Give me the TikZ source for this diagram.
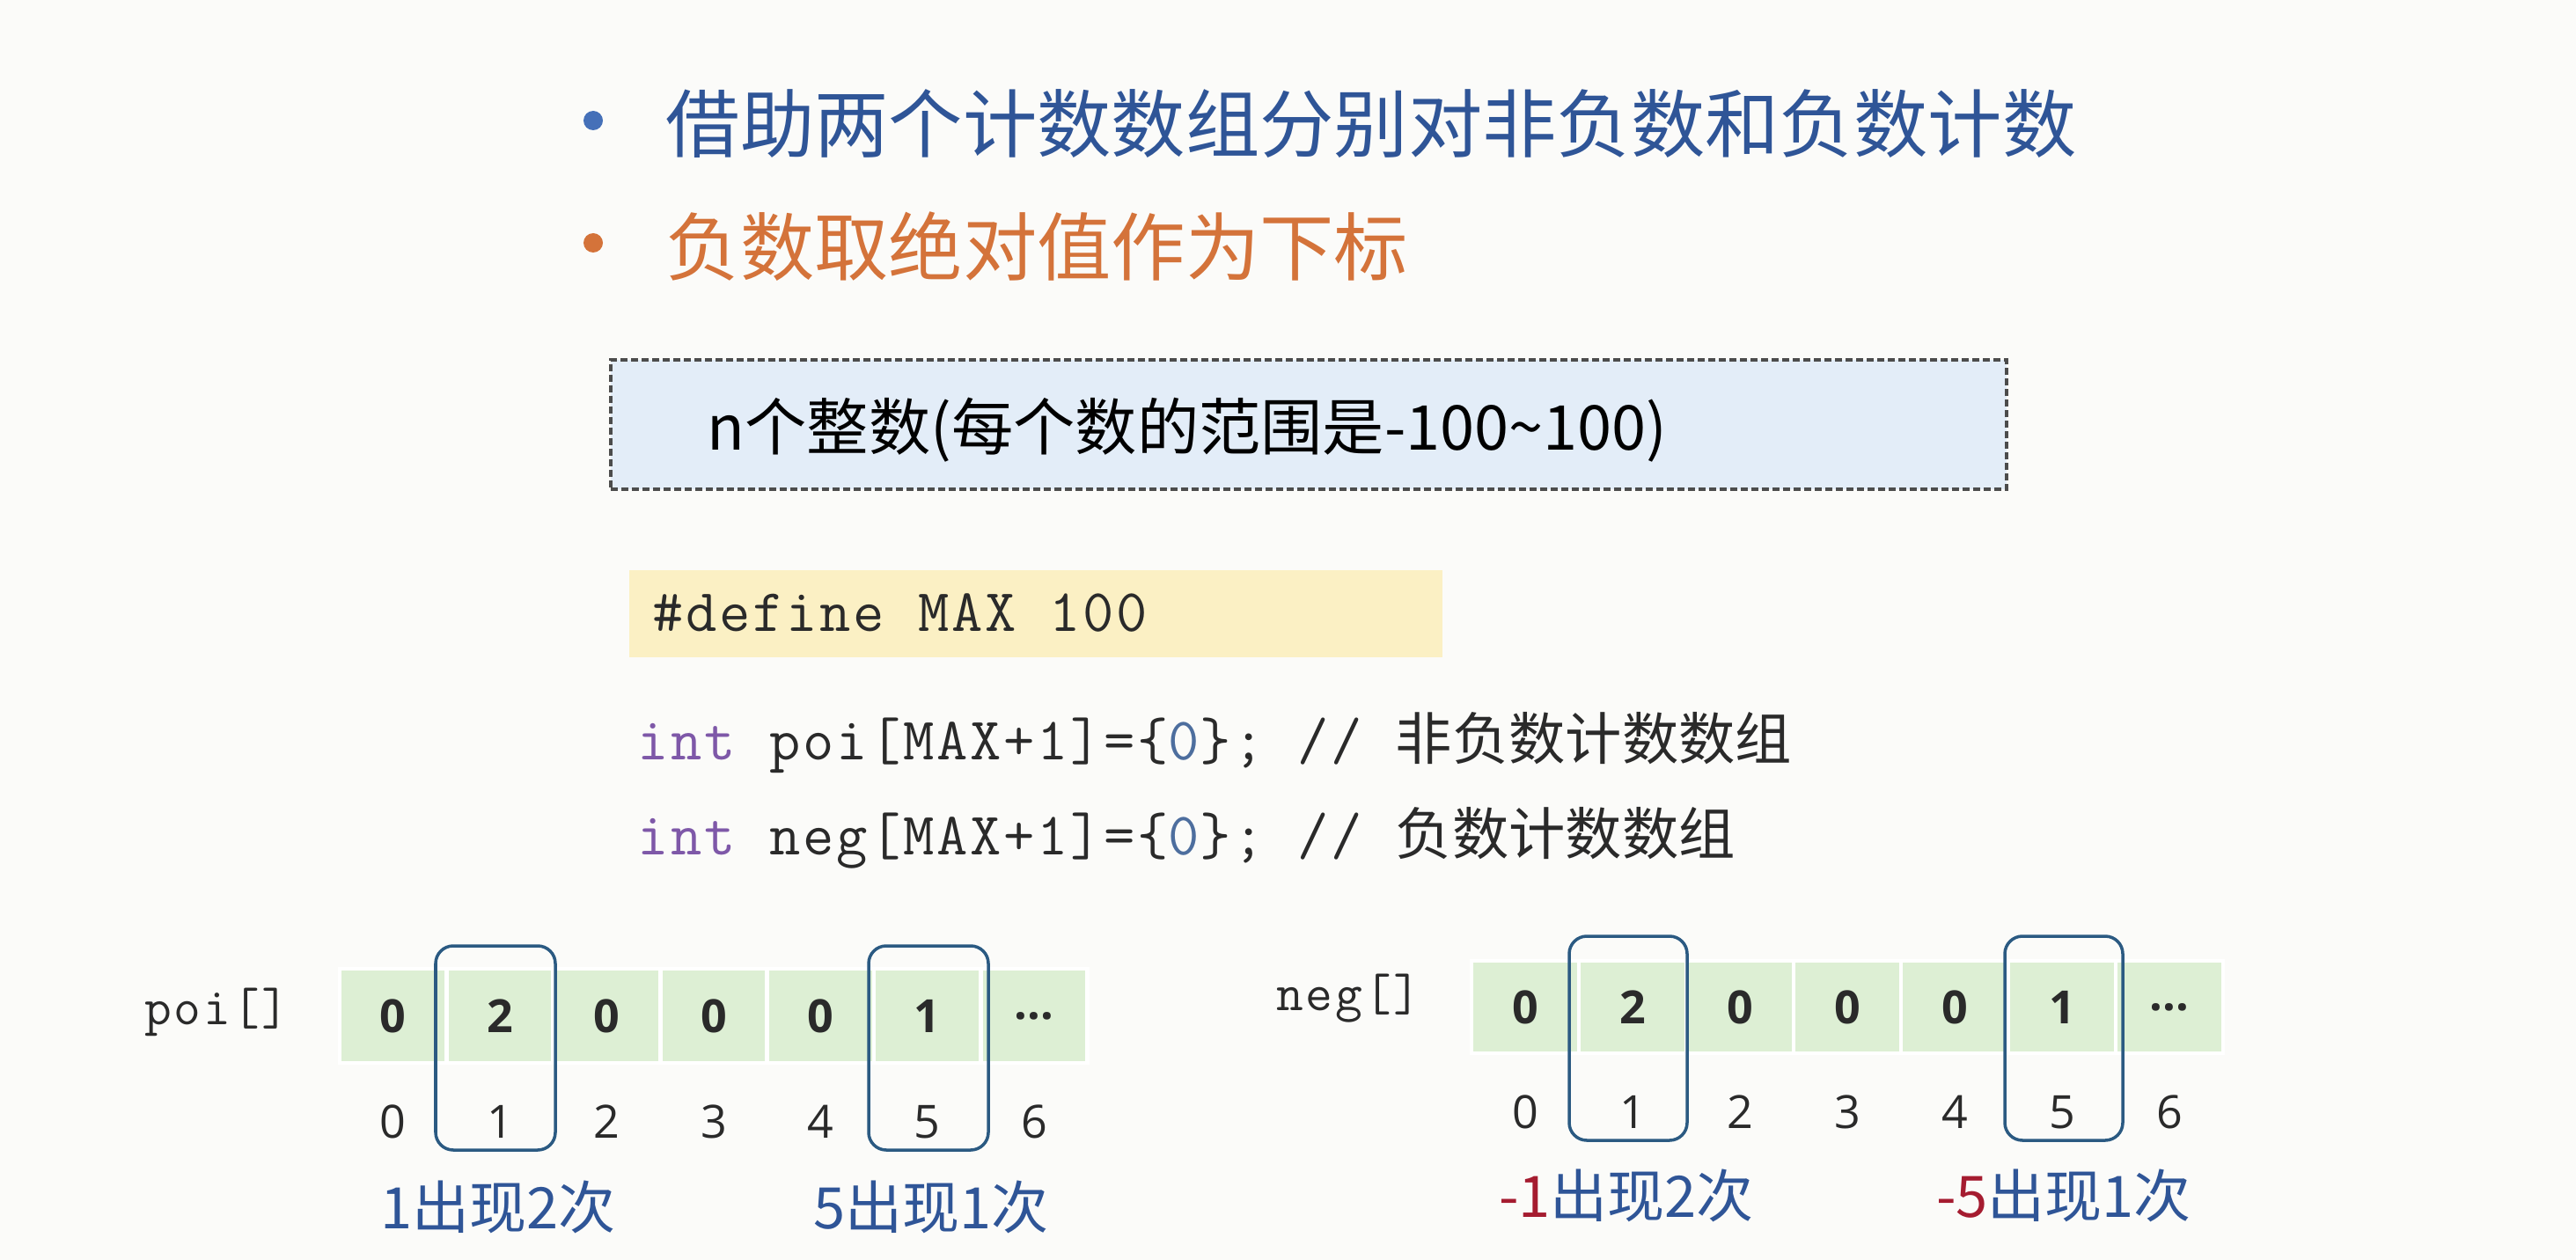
\documentclass[tikz,border=0pt]{standalone}
\usepackage{fontspec}
\setmainfont{Noto Sans CJK SC}
\setmonofont{Latin Modern Mono}[LetterSpace=4]
\newfontfamily\numfont{Open Sans}
\usepackage{tikz}
\usetikzlibrary{positioning}
\definecolor{bgpaper}{HTML}{FBFBF9}
\definecolor{headblue}{HTML}{2F5597}
\definecolor{dotblue}{HTML}{4570B8}
\definecolor{headorange}{HTML}{D4733A}
\definecolor{rangeblue}{HTML}{E3EDF8}
\definecolor{defyellow}{HTML}{FBF0C4}
\definecolor{cellgreen}{HTML}{DDEFD4}
\definecolor{hlblue}{HTML}{2B5A82}
\definecolor{intpurple}{HTML}{7E58A8}
\definecolor{zeroblue}{HTML}{4D6E9E}
\definecolor{darktext}{HTML}{2A2A2A}
\definecolor{minusred}{HTML}{A51C30}

\begin{document}
\begin{tikzpicture}[
  head/.style={anchor=west, inner sep=0, font=\fontsize{24}{29}\selectfont},
  bullet/.style={circle, inner sep=0, minimum size=0.22cm},
  code/.style={anchor=west, inner sep=0, text=darktext, font=\fontsize{19.5}{23}\selectfont},
  cell/.style={fill=cellgreen, draw=white, line width=1.4pt, minimum width=1.214cm,
               minimum height=1.07cm, text=darktext, font=\numfont\bfseries\fontsize{14.8}{18}\selectfont},
  idx/.style={inner sep=0, text=darktext, font=\numfont\fontsize{14.8}{18}\selectfont},
  hlbox/.style={draw=hlblue, line width=1pt, rounded corners=0.2cm,
                minimum width=1.36cm, minimum height=2.32cm},
  count/.style={inner sep=0, text=headblue, font=\fontsize{18.5}{22}\selectfont}
]
  \useasboundingbox (0,0) rectangle (29.27,-14.32);
  \fill[bgpaper] (0,0) rectangle (29.27,-14.32);

  % Bullet points
  \node[bullet, fill=dotblue] (dot1) at (6.74,-1.37) {};
  \node[head, text=headblue] (h1) at (7.56,-1.41) {借助两个计数数组分别对非负数和负数计数};
  \node[bullet, fill=headorange] (dot2) at (6.74,-2.76) {};
  \node[head, text=headorange] (h2) at (7.56,-2.80) {负数取绝对值作为下标};

  % Input range
  \node[draw=black!70, fill=rangeblue, line width=1.1pt, dash pattern=on 0.08cm off 0.04cm,
        minimum width=15.86cm, minimum height=1.47cm] (range) at (14.87,-4.825) {};
  \node[anchor=west, inner sep=0, font=\fontsize{20}{24}\selectfont] (rangetxt) at (8.03,-4.89)
        {n个整数(每个数的范围是-100\textasciitilde100)};

  % Code
  \node[fill=defyellow, minimum width=9.24cm, minimum height=0.99cm] (defbox) at (11.77,-6.975) {};
  \node[code] (deftxt) at (7.41,-6.96) {\ttfamily\#define MAX 100};
  \node[code] (line1) at (7.24,-8.44)
        {{\ttfamily\textcolor{intpurple}{int} poi[MAX+1]=\{\textcolor{zeroblue}{0}\}; // }{\fontsize{18.3}{21}\selectfont 非负数计数数组}};
  \node[code] (line2) at (7.24,-9.52)
        {{\ttfamily\textcolor{intpurple}{int} neg[MAX+1]=\{\textcolor{zeroblue}{0}\}; // }{\fontsize{18.3}{21}\selectfont 负数计数数组}};

  % poi array
  \node[code, font=\ttfamily\fontsize{17}{20}\selectfont] (poilbl) at (1.64,-11.50) {poi[]};
  \node[cell] (p0) at (4.467,-11.545) {0};
  \node[cell] (p1) at (5.681,-11.545) {2};
  \node[cell] (p2) at (6.895,-11.545) {0};
  \node[cell] (p3) at (8.109,-11.545) {0};
  \node[cell] (p4) at (9.323,-11.545) {0};
  \node[cell] (p5) at (10.537,-11.545) {1};
  \node[cell] (p6) at (11.751,-11.545) {...};
  \node[idx] (pi0) at (4.467,-12.75) {0};
  \node[idx] (pi1) at (5.681,-12.75) {1};
  \node[idx] (pi2) at (6.895,-12.75) {2};
  \node[idx] (pi3) at (8.109,-12.75) {3};
  \node[idx] (pi4) at (9.323,-12.75) {4};
  \node[idx] (pi5) at (10.537,-12.75) {5};
  \node[idx] (pi6) at (11.751,-12.75) {6};
  \node[hlbox] (phl1) at (5.63,-11.91) {};
  \node[hlbox] (phl5) at (10.55,-11.91) {};
  \node[count] (pc1) at (5.66,-13.72) {1出现2次};
  \node[count] (pc5) at (10.58,-13.72) {5出现1次};

  % neg array
  \node[code, font=\ttfamily\fontsize{17}{20}\selectfont] (neglbl) at (14.50,-11.35) {neg[]};
  \node[cell, minimum width=1.22cm, minimum height=1.05cm] (n0) at (17.33,-11.445) {0};
  \node[cell, minimum width=1.22cm, minimum height=1.05cm] (n1) at (18.55,-11.445) {2};
  \node[cell, minimum width=1.22cm, minimum height=1.05cm] (n2) at (19.77,-11.445) {0};
  \node[cell, minimum width=1.22cm, minimum height=1.05cm] (n3) at (20.99,-11.445) {0};
  \node[cell, minimum width=1.22cm, minimum height=1.05cm] (n4) at (22.21,-11.445) {0};
  \node[cell, minimum width=1.22cm, minimum height=1.05cm] (n5) at (23.43,-11.445) {1};
  \node[cell, minimum width=1.22cm, minimum height=1.05cm] (n6) at (24.65,-11.445) {...};
  \node[idx] (ni0) at (17.33,-12.64) {0};
  \node[idx] (ni1) at (18.55,-12.64) {1};
  \node[idx] (ni2) at (19.77,-12.64) {2};
  \node[idx] (ni3) at (20.99,-12.64) {3};
  \node[idx] (ni4) at (22.21,-12.64) {4};
  \node[idx] (ni5) at (23.43,-12.64) {5};
  \node[idx] (ni6) at (24.65,-12.64) {6};
  \node[hlbox, minimum width=1.34cm] (nhl1) at (18.50,-11.80) {};
  \node[hlbox, minimum width=1.34cm] (nhl5) at (23.45,-11.80) {};
  \node[count] (nc1) at (18.48,-13.59) {\textcolor{minusred}{-1}出现2次};
  \node[count] (nc5) at (23.45,-13.59) {\textcolor{minusred}{-5}出现1次};
\end{tikzpicture}
\end{document}
